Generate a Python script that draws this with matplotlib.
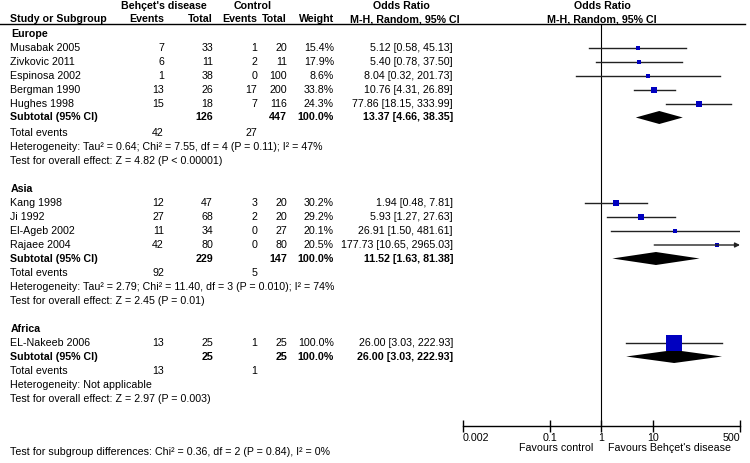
import numpy as np
import matplotlib
matplotlib.use('Agg')
import matplotlib.pyplot as plt

plt.rcParams['font.family'] = ['Liberation Sans', 'DejaVu Sans']

# study level data
study = ['Musabak 2005', 'Zivkovic 2011', 'Espinosa 2002', 'Bergman 1990', 'Hughes 1998',
         'Kang 1998', 'Ji 1992', 'El-Ageb 2002', 'Rajaee 2004',
         'EL-Nakeeb 2006']
group = [0, 0, 0, 0, 0, 1, 1, 1, 1, 2]
ev_bd = [7, 6, 1, 13, 15, 12, 27, 11, 42, 13]
n_bd = [33, 11, 38, 26, 18, 47, 68, 34, 80, 25]
ev_ct = [1, 2, 0, 17, 7, 3, 2, 0, 0, 1]
n_ct = [20, 11, 100, 200, 116, 20, 20, 27, 80, 25]
weight = [15.4, 17.9, 8.6, 33.8, 24.3, 30.2, 29.2, 20.1, 20.5, 100.0]
odds = [5.12, 5.40, 8.04, 10.76, 77.86, 1.94, 5.93, 26.91, 177.73, 26.00]
ci_lo = [0.58, 0.78, 0.32, 4.31, 18.15, 0.48, 1.27, 1.50, 10.65, 3.03]
ci_hi = [45.13, 37.50, 201.73, 26.89, 333.99, 7.81, 27.63, 481.61, 2965.03, 222.93]

# subgroup data
sub_name = ['Europe', 'Asia', 'Africa']
sub_n_bd = [126, 229, 25]
sub_n_ct = [447, 147, 25]
sub_ev_bd = [42, 92, 13]
sub_ev_ct = [27, 5, 1]
sub_or = [13.37, 11.52, 26.00]
sub_lo = [4.66, 1.63, 3.03]
sub_hi = [38.35, 81.38, 222.93]
sub_het = ['Heterogeneity: Tau\u00b2 = 0.64; Chi\u00b2 = 7.55, df = 4 (P = 0.11); I\u00b2 = 47%',
           'Heterogeneity: Tau\u00b2 = 2.79; Chi\u00b2 = 11.40, df = 3 (P = 0.010); I\u00b2 = 74%',
           'Heterogeneity: Not applicable']
sub_z = ['Test for overall effect: Z = 4.82 (P < 0.00001)',
         'Test for overall effect: Z = 2.45 (P = 0.01)',
         'Test for overall effect: Z = 2.97 (P = 0.003)']
subgroup_test = 'Test for subgroup differences: Chi\u00b2 = 0.36, df = 2 (P = 0.84), I\u00b2 = 0%'

xticks = [0.002, 0.1, 1, 10, 500]
xticklabels = ['0.002', '0.1', '1', '10', '500']

fs = 7.7
W, H = 750, 463
fig = plt.figure(figsize=(7.5, 4.63), dpi=100)
ax = fig.add_axes([0, 0, 1, 1])
ax.set_xlim(0, W)
ax.set_ylim(H, 0)
ax.axis('off')

# forest axes, y in pixel units so rows line up with the text
ax_top, ax_bot, ax_l, ax_r = 24, 426, 463, 740
axf = fig.add_axes([ax_l / W, (H - ax_bot) / H, (ax_r - ax_l) / W, (ax_bot - ax_top) / H])
axf.set_xscale('log')
axf.set_xlim(0.002, 500)
axf.set_ylim(ax_bot, ax_top)
axf.patch.set_alpha(0)
for s in ['top', 'left', 'right']:
    axf.spines[s].set_visible(False)
axf.spines['bottom'].set_linewidth(1)
axf.set_yticks([])
axf.minorticks_off()
axf.set_xticks(xticks)
axf.set_xticklabels(xticklabels, fontsize=fs)
axf.tick_params(axis='x', direction='inout', length=8, width=1, pad=1)
labs = axf.get_xticklabels()
labs[0].set_ha('left')
labs[-1].set_ha('right')
axf.axvline(1, color='black', lw=0.8)

# column positions (right edges)
c_ev1, c_n1, c_ev2, c_n2, c_w, c_or = 164, 213, 257, 287, 334, 453

# headers
ax.text(164, 6, "Beh\u00e7et's disease", ha='center', va='center', fontsize=fs, weight='bold')
ax.text(253, 6, 'Control', ha='center', va='center', fontsize=fs, weight='bold')
ax.text(401, 6, 'Odds Ratio', ha='center', va='center', fontsize=fs, weight='bold')
ax.text(602, 6, 'Odds Ratio', ha='center', va='center', fontsize=fs, weight='bold')
ax.text(10, 19, 'Study or Subgroup', ha='left', va='center', fontsize=fs, weight='bold')
for x, t in [(c_ev1, 'Events'), (c_n1, 'Total'), (c_ev2, 'Events'), (c_n2, 'Total'), (c_w, 'Weight')]:
    ax.text(x, 19, t, ha='right', va='center', fontsize=fs, weight='bold')
ax.text(405, 19, 'M-H, Random, 95% CI', ha='center', va='center', fontsize=fs, weight='bold')
ax.text(602, 19, 'M-H, Random, 95% CI', ha='center', va='center', fontsize=fs, weight='bold')
ax.plot([0, 745], [ax_top, ax_top], color='black', lw=1)

group_y = [34, 189, 329]
for g in range(3):
    y = group_y[g]
    ax.text(11, y, sub_name[g], ha='left', va='center', fontsize=fs, weight='bold')
    idx = [i for i in range(len(study)) if group[i] == g]
    for i in idx:
        y += 14
        ax.text(10, y, study[i], ha='left', va='center', fontsize=fs)
        ax.text(c_ev1, y, str(ev_bd[i]), ha='right', va='center', fontsize=fs)
        ax.text(c_n1, y, str(n_bd[i]), ha='right', va='center', fontsize=fs)
        ax.text(c_ev2, y, str(ev_ct[i]), ha='right', va='center', fontsize=fs)
        ax.text(c_n2, y, str(n_ct[i]), ha='right', va='center', fontsize=fs)
        ax.text(c_w, y, '%.1f%%' % weight[i], ha='right', va='center', fontsize=fs)
        ax.text(c_or, y, '%.2f [%.2f, %.2f]' % (odds[i], ci_lo[i], ci_hi[i]),
                ha='right', va='center', fontsize=fs)
        hi = min(ci_hi[i], 500)
        if ci_hi[i] > 500:
            axf.annotate('', xy=(hi, y), xytext=(ci_lo[i], y),
                         arrowprops=dict(arrowstyle='-|>', color='#222222', lw=1,
                                         mutation_scale=7, shrinkA=0, shrinkB=0))
        else:
            axf.plot([ci_lo[i], hi], [y, y], color='#222222', lw=1)
        side = 2 + 0.14 * weight[i]
        axf.plot(odds[i], y, marker='s', color='#0000c0', ms=side * 0.72, mew=0)
    y += 13.5
    ax.text(10, y, 'Subtotal (95% CI)', ha='left', va='center', fontsize=fs, weight='bold')
    ax.text(c_n1, y, str(sub_n_bd[g]), ha='right', va='center', fontsize=fs, weight='bold')
    ax.text(c_n2, y, str(sub_n_ct[g]), ha='right', va='center', fontsize=fs, weight='bold')
    ax.text(c_w, y, '100.0%', ha='right', va='center', fontsize=fs, weight='bold')
    ax.text(c_or, y, '%.2f [%.2f, %.2f]' % (sub_or[g], sub_lo[g], sub_hi[g]),
            ha='right', va='center', fontsize=fs, weight='bold')
    axf.fill([sub_lo[g], sub_or[g], sub_hi[g], sub_or[g]], [y, y - 6.5, y, y + 6.5],
             color='black', lw=0)
    y += 15
    ax.text(10, y, 'Total events', ha='left', va='center', fontsize=fs)
    ax.text(c_ev1, y, str(sub_ev_bd[g]), ha='right', va='center', fontsize=fs)
    ax.text(c_ev2, y, str(sub_ev_ct[g]), ha='right', va='center', fontsize=fs)
    y += 14
    ax.text(10, y, sub_het[g], ha='left', va='center', fontsize=fs)
    y += 14
    ax.text(10, y, sub_z[g], ha='left', va='center', fontsize=fs)

ax.text(10, 452, subgroup_test, ha='left', va='center', fontsize=fs)
ax.text(593, 448, 'Favours control', ha='right', va='center', fontsize=fs)
ax.text(608, 448, "Favours Beh\u00e7et's disease", ha='left', va='center', fontsize=fs)

fig.savefig('out.png', dpi=100)
